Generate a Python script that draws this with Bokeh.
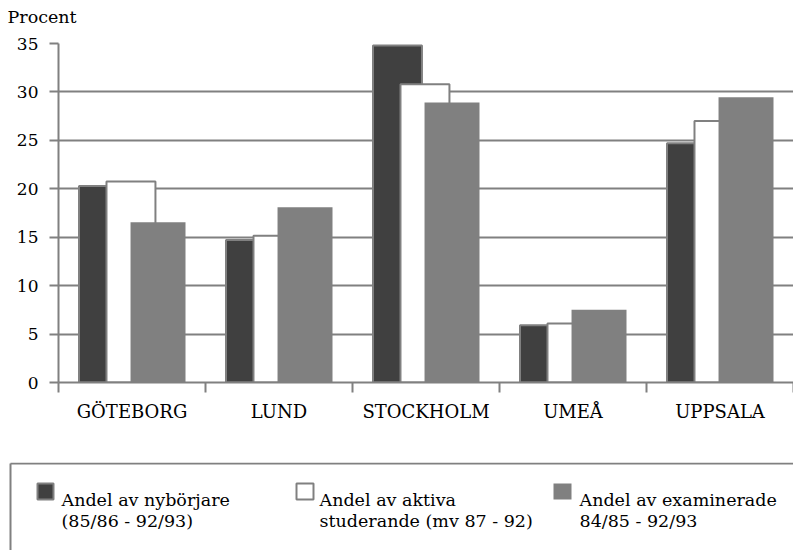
import numpy as np
from bokeh.plotting import figure
from bokeh.models import Range1d, FixedTicker
from bokeh.core.properties import value
from bokeh.embed import file_html
from bokeh.resources import INLINE

# ---- data ----
categories = ["GÖTEBORG", "LUND", "STOCKHOLM", "UMEÅ", "UPPSALA"]
nyborjare = [20.3, 14.7, 34.8, 5.9, 24.7]
aktiva = [20.75, 15.15, 30.8, 6.1, 27.0]
examinerade = [16.55, 18.1, 28.9, 7.5, 29.45]
y_ticks = [0, 5, 10, 15, 20, 25, 30, 35]
y_title = "Procent"
legend_line1 = ["Andel av nybörjare", "Andel av aktiva", "Andel av examinerade"]
legend_line2 = ["(85/86 - 92/93)", "studerande (mv 87 - 92)", "84/85 - 92/93"]

FONT = "DejaVu Serif"
GRAY = "#808080"
DARK = "#404040"

idx = np.arange(len(categories))


def panel(h):
    f = figure(width=793, height=h, x_range=Range1d(0, 793), y_range=Range1d(h, 0),
               toolbar_location=None, output_backend="svg", min_border=0,
               x_axis_type=None, y_axis_type=None, title=None)
    f.outline_line_color = None
    f.grid.visible = False
    return f


# ---- axis title strip ----
T = panel(26)
T.text(x=[7], y=[16], text=[y_title], text_font=value(FONT), text_font_size="17.5px",
       text_color="black", text_baseline="alphabetic")

# ---- chart ----
p = figure(width=793, height=436, x_range=Range1d(-0.5, len(categories) - 0.5),
           y_range=Range1d(0, 35), toolbar_location=None, output_backend="svg",
           min_border_left=58, min_border_right=0, min_border_top=17, min_border_bottom=80)
p.outline_line_color = None
p.xgrid.visible = False
p.ygrid.ticker = FixedTicker(ticks=y_ticks)
p.ygrid.grid_line_color = GRAY
p.ygrid.grid_line_width = 2

p.vbar(x=idx - 0.194, top=nyborjare, width=0.333, bottom=0,
       fill_color=DARK, line_color=GRAY, line_width=2)
p.vbar(x=idx - 0.007, top=aktiva, width=0.333, bottom=0,
       fill_color="white", line_color=GRAY, line_width=2)
p.vbar(x=idx + 0.177, top=examinerade, width=0.374, bottom=0,
       fill_color=GRAY, line_color=None)

# y axis
ya = p.yaxis[0]
ya.ticker = FixedTicker(ticks=y_ticks)
ya.axis_line_color = GRAY
ya.axis_line_width = 2
ya.major_tick_line_color = GRAY
ya.major_tick_line_width = 2
ya.major_tick_out = 9
ya.major_tick_in = 0
ya.minor_tick_line_color = None
ya.major_label_text_font = FONT
ya.major_label_text_font_size = "17px"
ya.major_label_text_color = "black"
ya.major_label_standoff = 11

# x axis
xa = p.xaxis[0]
xa.ticker = FixedTicker(ticks=list(idx), minor_ticks=list(np.arange(-0.5, len(categories), 1.0)))
xa.major_label_overrides = {int(i): c for i, c in zip(idx, categories)}
xa.axis_line_color = GRAY
xa.axis_line_width = 2
xa.major_tick_line_color = None
xa.major_tick_out = 0
xa.major_tick_in = 0
xa.minor_tick_line_color = GRAY
xa.minor_tick_line_width = 2
xa.minor_tick_out = 10
xa.minor_tick_in = 0
xa.major_label_text_font = FONT
xa.major_label_text_font_size = "18px"
xa.major_label_text_color = "black"
xa.major_label_standoff = 8

# ---- legend panel ----
L = panel(88)
L.multi_line(xs=[[10, 793], [10, 10]], ys=[[1, 1], [1, 88]], line_color=GRAY, line_width=2)

sq_left = [37, 296, 553]
sq_w = [16, 17, 18]
txt_x = [61, 319, 579]
fills = [DARK, "white", GRAY]
lines = [GRAY, GRAY, None]
for i in range(3):
    L.quad(left=[sq_left[i]], right=[sq_left[i] + sq_w[i]], top=[21], bottom=[37],
           fill_color=fills[i], line_color=lines[i], line_width=2)

L.text(x=txt_x, y=[37, 37, 37], text=legend_line1, text_font=value(FONT),
       text_font_size="17.5px", text_color="black", text_baseline="alphabetic")
L.text(x=txt_x, y=[58, 58, 58], text=legend_line2, text_font=value(FONT),
       text_font_size="17.5px", text_color="black", text_baseline="alphabetic")

open("out.html", "w").write(file_html([T, p, L], INLINE))
